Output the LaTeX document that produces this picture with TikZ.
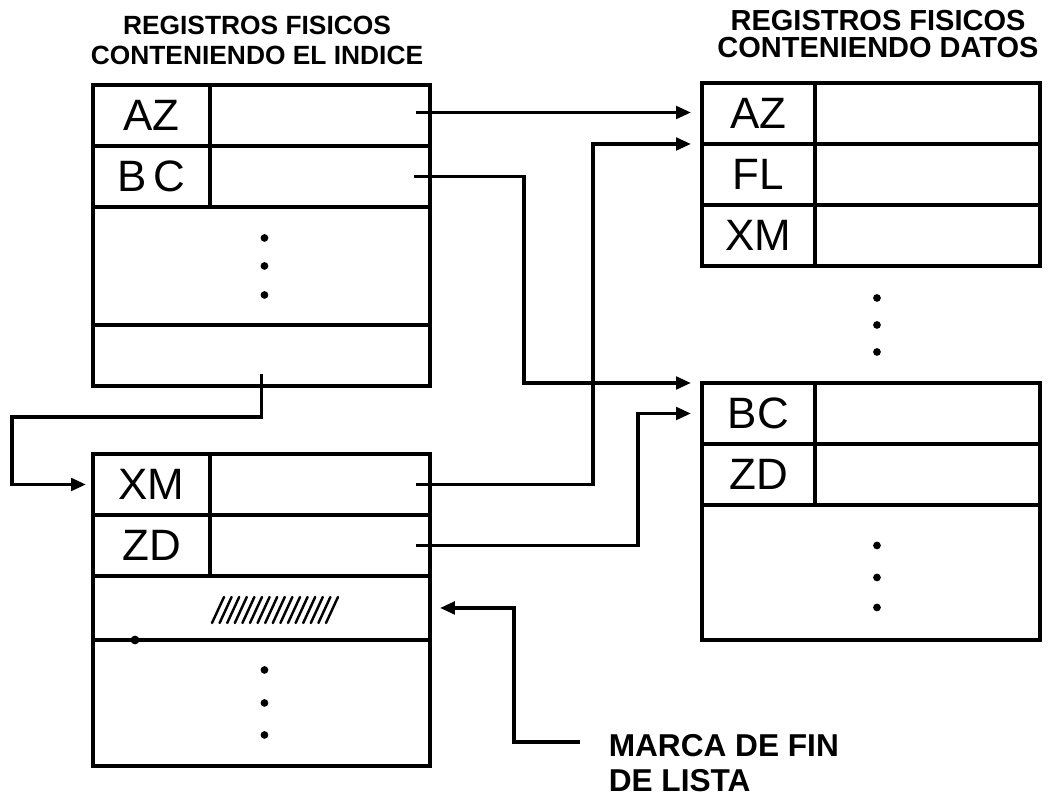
\documentclass[tikz,border=0pt]{standalone}
\usepackage{fontspec}
\setmainfont{Liberation Sans}
\usetikzlibrary{arrows.meta, calc}

\begin{document}
\begin{tikzpicture}[x=0.02cm, y=-0.02cm, line width=2pt,
    clave/.style={draw, inner sep=0pt, outer sep=0pt, minimum height=1.22cm, font=\fontsize{25}{25}\selectfont},
    valor/.style={draw, inner sep=0pt, outer sep=0pt, minimum height=1.22cm},
    titulo/.style={align=center, font=\bfseries\fontsize{15}{17}\selectfont},
    flecha/.style={-{Triangle[length=0.3cm, width=0.25cm]}, shorten >=0.22cm}]
  \useasboundingbox (0,0) rectangle (1052,804);

  % index, first physical record
  \node[titulo] (tIndice) at (257,40) {REGISTROS FISICOS\\CONTENIENDO EL INDICE};
  \node[clave, minimum width=2.34cm, anchor=north west] (iAZ) at (93,85) {AZ};
  \node[valor, minimum width=4.4cm, anchor=north west] (iAZv) at (iAZ.north east) {};
  \node[clave, minimum width=2.34cm, anchor=north west] (iBC) at (iAZ.south west) {B\,C};
  \node[valor, minimum width=4.4cm, anchor=north west] (iBCv) at (iBC.north east) {};
  \node[valor, minimum width=6.74cm, minimum height=2.36cm, anchor=north west] (iResto) at (iBC.south west) {};
  \node[valor, minimum width=6.74cm, anchor=north west] (iUlt) at (iResto.south west) {};
  \foreach \y in {-28,0,29} \fill ($(iResto.center)+(3,\y)$) circle (2.2pt);

  % index, second physical record
  \node[clave, minimum width=2.34cm, anchor=north west] (jXM) at (93,454) {XM};
  \node[valor, minimum width=4.4cm, anchor=north west] (jXMv) at (jXM.north east) {};
  \node[clave, minimum width=2.34cm, anchor=north west] (jZD) at (jXM.south west) {ZD};
  \node[valor, minimum width=4.4cm, anchor=north west] (jZDv) at (jZD.north east) {};
  \node[valor, minimum width=6.74cm, minimum height=1.28cm, anchor=north west] (jMarca) at (jZD.south west) {};
  \node[valor, minimum width=6.74cm, minimum height=2.52cm, anchor=north west] (jResto) at (jMarca.south west) {};
  \foreach \i in {0,...,15}
    \draw[line width=1.4pt, line cap=round] (212+7.6*\i,623) -- (224+7.6*\i,597);
  \fill (135,640) circle (2.5pt);
  \foreach \y in {-33,0,32} \fill ($(jResto.center)+(3,\y)$) circle (2.2pt);

  % data records
  \node[titulo, font=\bfseries\fontsize{16.5}{15}\selectfont] (tDatos) at (878,34) {REGISTROS FISICOS\\CONTENIENDO DATOS};
  \node[clave, minimum width=2.26cm, anchor=north west] (dAZ) at (702,83) {AZ};
  \node[valor, minimum width=4.5cm, anchor=north west] (dAZv) at (dAZ.north east) {};
  \node[clave, minimum width=2.26cm, anchor=north west] (dFL) at (dAZ.south west) {FL};
  \node[valor, minimum width=4.5cm, anchor=north west] (dFLv) at (dFL.north east) {};
  \node[clave, minimum width=2.26cm, anchor=north west] (dXM) at (dFL.south west) {XM};
  \node[valor, minimum width=4.5cm, anchor=north west] (dXMv) at (dXM.north east) {};
  \foreach \y in {32,59,86} \fill ($(dXM.south east)+(62,\y)$) circle (2.2pt);

  \node[clave, minimum width=2.26cm, anchor=north west] (dBC) at (702,383) {BC};
  \node[valor, minimum width=4.5cm, anchor=north west] (dBCv) at (dBC.north east) {};
  \node[clave, minimum width=2.26cm, anchor=north west] (dZD) at (dBC.south west) {ZD};
  \node[valor, minimum width=4.5cm, anchor=north west] (dZDv) at (dZD.north east) {};
  \node[valor, minimum width=6.76cm, minimum height=2.7cm, anchor=north west] (dResto) at (dZD.south west) {};
  \foreach \y in {-27,5,35} \fill ($(dResto.center)+(6,\y)$) circle (2.2pt);

  % pointers
  \coordinate (pAZ) at ($(iAZv.east)+(-14,-3)$);
  \coordinate (pBC) at ($(iBCv.east)+(-16,0)$);
  \coordinate (pXM) at ($(jXMv.east)+(-14,0)$);
  \coordinate (pZD) at ($(jZDv.east)+(-14,0)$);
  \coordinate (pSig) at ($(iUlt.south)+(0,-12)$);
  \draw[flecha] (pAZ) -- (pAZ -| dAZ.west);
  \draw[flecha] (pBC) -| ($(dBC.north west)+(-178,0)$) -- (dBC.north west);
  \draw[flecha] (pXM) -| ($(dAZ.south west)+(-109,0)$) -- (dAZ.south west);
  \draw[flecha] (pZD) -| ($(dBC.west)+(-64,0)$) -- (dBC.west);
  \draw[flecha, shorten >=0.14cm] (pSig) -- ++(0,43) -| ($(jXM.west)+(-81,0)$) -- (jXM.west);

  % end of list mark
  \node[font=\bfseries\fontsize{18}{20}\selectfont, align=left, inner sep=0pt, anchor=north west] (marca) at (607,733) {MARCA DE FIN\\DE LISTA};
  \coordinate (cMarca) at ($(marca.north west)+(-27,9)$);
  \draw[flecha, shorten >=0.2cm] (cMarca) -| ($(jMarca.east)+(84,0)$) -- (jMarca.east);
\end{tikzpicture}
\end{document}
